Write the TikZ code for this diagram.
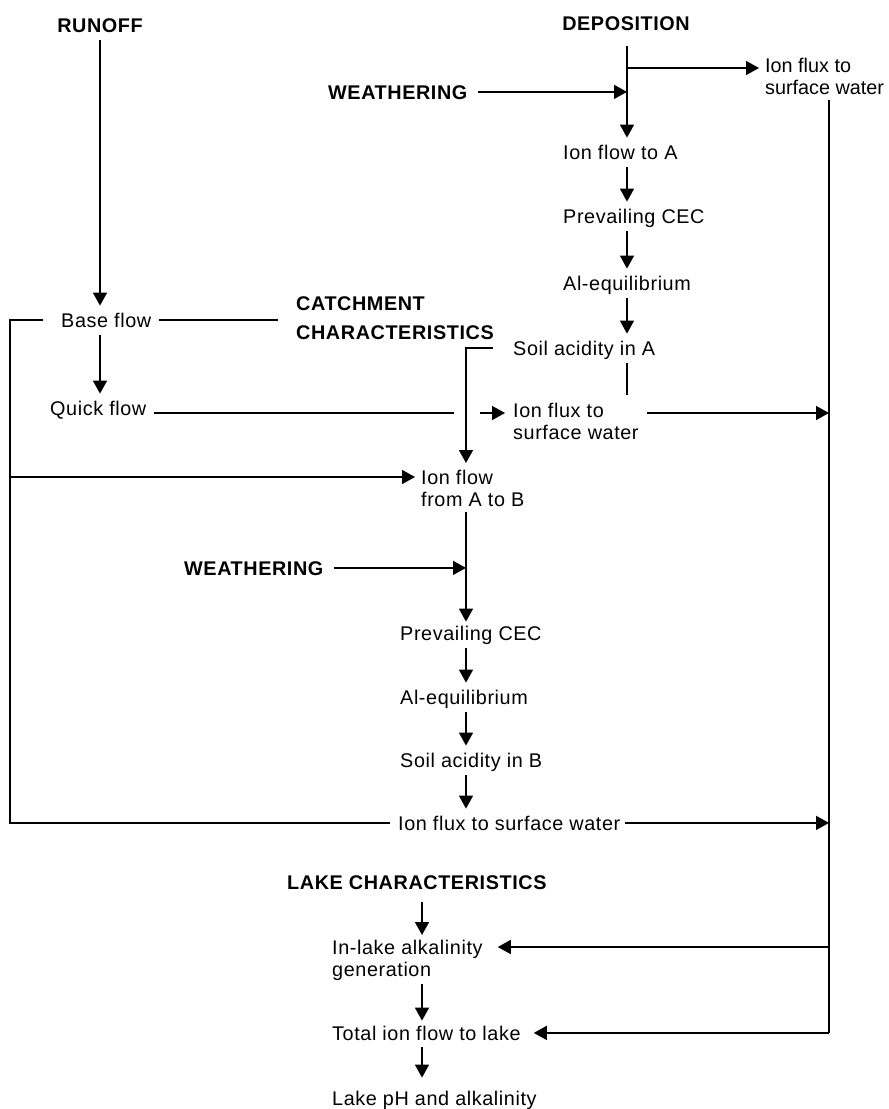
\documentclass[tikz,border=0pt]{standalone}
\usepackage{fontspec}
\setmainfont{Liberation Sans}[LetterSpace=3]
\usetikzlibrary{arrows.meta}
\begin{document}
\begin{tikzpicture}[x=1pt,y=-1pt,
  lbl/.style={font=\fontsize{19.8}{22}\selectfont, inner sep=0pt, text height=14.2pt, text depth=0pt},
  hd/.style={lbl, font=\fontsize{19.8}{22}\selectfont\bfseries},
  two/.style={font=\fontsize{19.8}{22}\selectfont, inner sep=0pt, align=left, anchor=north west},
  ln/.style={line width=1.5pt},
  arr/.style={ln, -{Triangle[length=13pt,width=14pt]}},
  vflow/.style={arr, shorten <=8pt, shorten >=7pt}
]
\useasboundingbox (0,0) rectangle (889,1109);
% columns and rows
\coordinate (colA) at (627,0);
\coordinate (colB) at (466,0);
\coordinate (colL) at (422,0);
\coordinate (colR) at (829,0);
\coordinate (colO) at (10,0);
\coordinate (colRun) at (100,0);
\coordinate (rowT) at (0,68);
\coordinate (rowQ) at (0,413);
\coordinate (rowAB) at (0,477);
\coordinate (rowIL) at (0,947);
\coordinate (stub) at (627,395);
\coordinate (gapL) at (454,413);
\coordinate (gapR) at (480,413);
% nodes
\node[hd, anchor=base] (runoff) at (100,32) {RUNOFF};
\node[hd, anchor=base] (depo) at (626,30) {DEPOSITION};
\node[hd, anchor=base west] (w1) at (328,99) {WEATHERING};
\node[two, font=\fontsize{19.8}{22}\selectfont\addfontfeature{LetterSpace=0}] (fluxT) at (765,58) {Ion flux to\\surface water};
\node[lbl, anchor=base west] (ionA) at (563,159) {Ion flow to A};
\node[lbl, anchor=base west] (cecA) at (563,223) {Prevailing CEC};
\node[lbl, anchor=base west] (alA) at (563,290) {Al-equilibrium};
\node[lbl, anchor=base west] (soilA) at (513,355) {Soil acidity in A};
\node[two] (fluxM) at (513,403) {Ion flux to\\surface water};
\node[lbl, anchor=base west] (base) at (61,327) {Base flow};
\node[two, font=\fontsize{19.8}{29}\selectfont\bfseries] (catch) at (296,296) {CATCHMENT\\CHARACTERISTICS};
\node[lbl, anchor=base west] (quick) at (50,415) {Quick flow};
\node[two] (ionAB) at (421,470) {Ion flow\\from A to B};
\node[hd, anchor=base west] (w2) at (184,575) {WEATHERING};
\node[lbl, anchor=base west] (cecB) at (400,640) {Prevailing CEC};
\node[lbl, anchor=base west] (alB) at (400,704) {Al-equilibrium};
\node[lbl, anchor=base west] (soilB) at (400,767) {Soil acidity in B};
\node[lbl, anchor=base west] (fluxB) at (398,830) {Ion flux to surface water};
\node[hd, anchor=base west] (lake) at (287,889) {LAKE CHARACTERISTICS};
\node[two] (inlake) at (332,940) {In-lake alkalinity\\generation};
\node[lbl, anchor=base west] (total) at (332,1040) {Total ion flow to lake};
\node[lbl, anchor=base west] (ph) at (332,1105) {Lake pH and alkalinity};
% runoff side
\draw[vflow] (runoff.south -| colRun) -- (base.north -| colRun);
\draw[vflow] (base.south -| colRun) -- (quick.north -| colRun);
\draw[ln, shorten <=8pt, shorten >=18pt] (base.east) -- (base.east -| catch.west);
\draw[ln, shorten <=18pt] (base.west) -| (colO |- fluxB.west) -- ([xshift=-8pt]fluxB.west);
\draw[arr, shorten >=6pt] (colO |- rowAB) -- (rowAB -| ionAB.west);
\draw[ln, shorten <=8pt] (rowQ -| quick.east) -- (gapL);
\draw[arr, shorten >=8pt] (gapR) -- (rowQ -| fluxM.west);
% deposition column (A)
\draw[arr, shorten <=16pt, shorten >=7pt] (depo.south -| colA) -- (ionA.north -| colA);
\draw[arr, shorten <=10pt] (w1.east) -- (w1.east -| colA);
\draw[arr, shorten >=6pt] (rowT -| colA) -- (rowT -| fluxT.west);
\draw[vflow] (ionA.south -| colA) -- (cecA.north -| colA);
\draw[vflow] (cecA.south -| colA) -- (alA.north -| colA);
\draw[vflow] (alA.south -| colA) -- (soilA.north -| colA);
\draw[ln, shorten <=8pt] (soilA.south -| colA) -- (stub);
\draw[arr, shorten <=8pt] (rowQ -| fluxM.east) -- (rowQ -| colR);
\draw[arr, shorten <=20pt, shorten >=7pt] (soilA.west) -| (ionAB.north -| colB);
% column B
\draw[arr, shorten <=5pt, shorten >=4pt] (ionAB.south -| colB) -- (cecB.north -| colB);
\draw[arr, shorten <=10pt] (w2.east) -- (w2.east -| colB);
\draw[vflow] (cecB.south -| colB) -- (alB.north -| colB);
\draw[vflow] (alB.south -| colB) -- (soilB.north -| colB);
\draw[vflow] (soilB.south -| colB) -- (fluxB.north -| colB);
\draw[arr, shorten <=5pt] (fluxB.east) -- (fluxB.east -| colR);
% right collector
\draw[ln, shorten <=5pt] (fluxT.south -| colR) -- (colR |- total.east);
\draw[arr, shorten >=15pt] (colR |- rowIL) -- (rowIL -| inlake.east);
\draw[arr, shorten >=13pt] (total.east -| colR) -- (total.east);
% lake column
\draw[arr, shorten <=13pt, shorten >=5pt] (lake.south -| colL) -- (inlake.north -| colL);
\draw[arr, shorten <=3pt, shorten >=5pt] (inlake.south -| colL) -- (total.north -| colL);
\draw[arr, shorten <=7pt, shorten >=13pt] (total.south -| colL) -- (ph.north -| colL);
\end{tikzpicture}
\end{document}
